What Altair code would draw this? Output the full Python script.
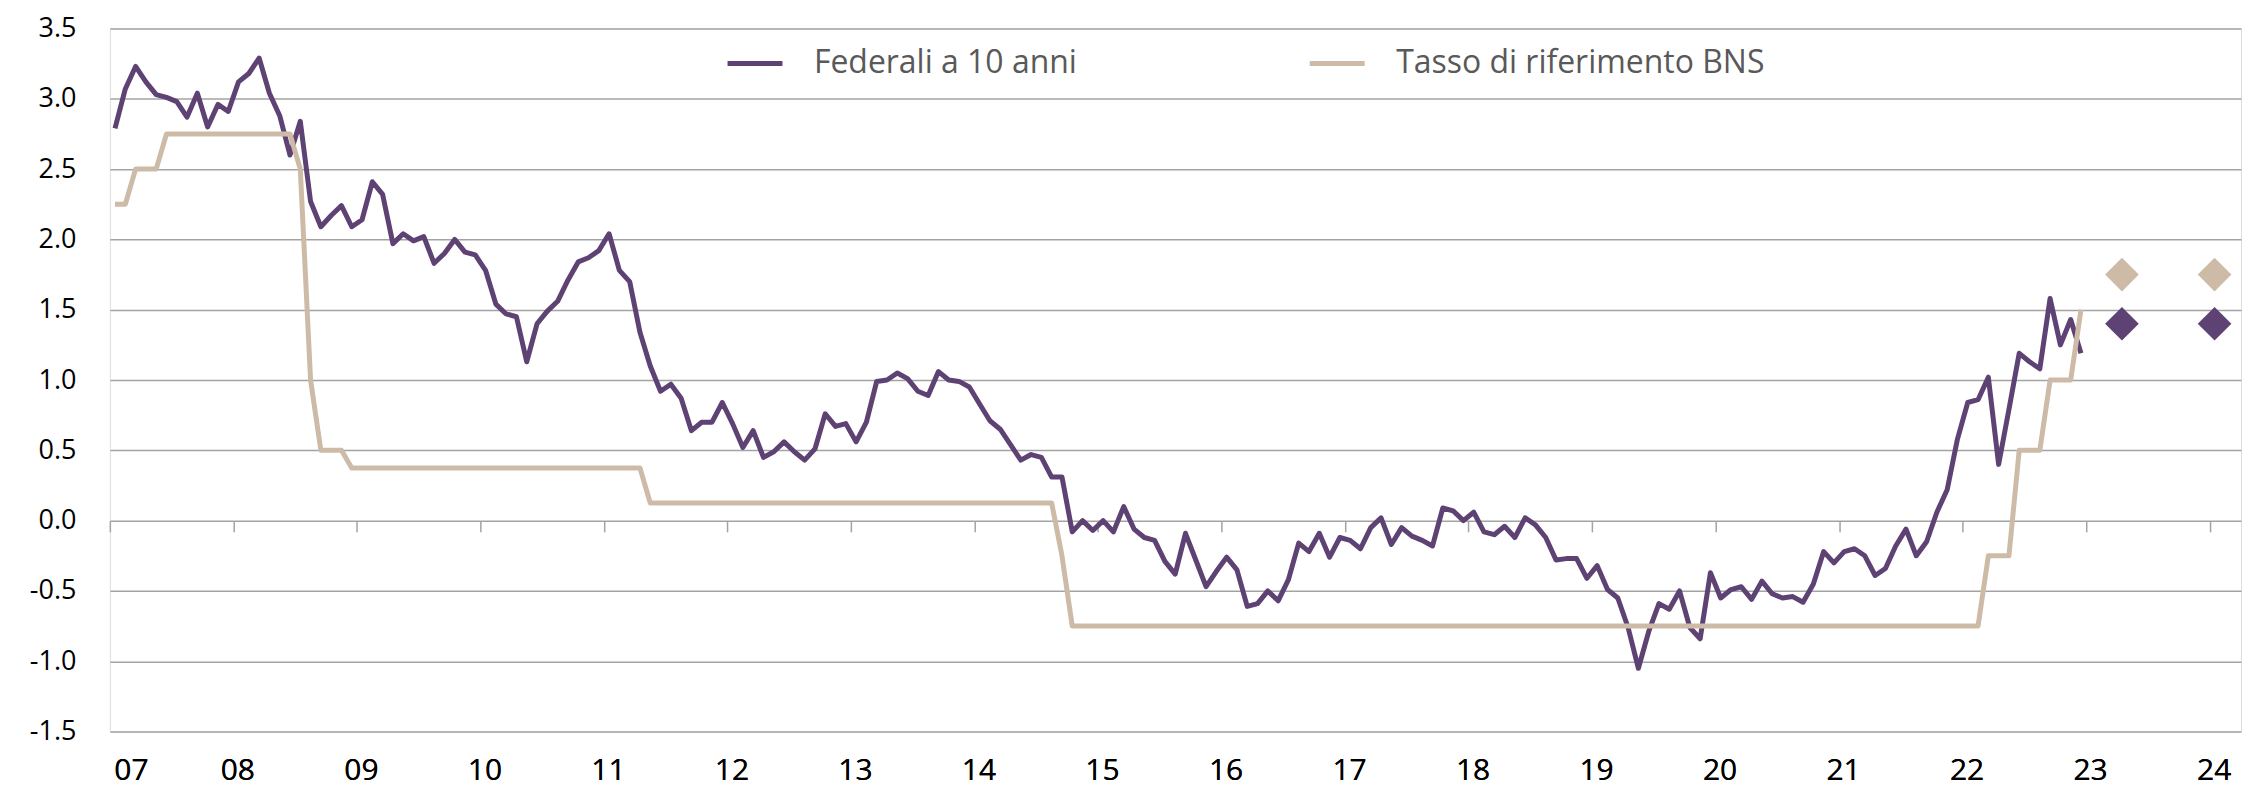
import altair as alt
import pandas as pd

# ---------------- data ----------------
start_year = 2007
# Federali a 10 anni, monthly Jan 2007 .. Dec 2022
fed_values = [
    2.79, 3.07, 3.23, 3.12, 3.03, 3.01, 2.98, 2.87, 3.04, 2.80, 2.96, 2.91,   # 2007
    3.12, 3.18, 3.29, 3.04, 2.88, 2.60, 2.84, 2.27, 2.09, 2.17, 2.24, 2.09,   # 2008
    2.14, 2.41, 2.32, 1.97, 2.04, 1.99, 2.02, 1.83, 1.90, 2.00, 1.91, 1.89,   # 2009
    1.78, 1.54, 1.47, 1.45, 1.13, 1.40, 1.49, 1.56, 1.71, 1.84, 1.87, 1.92,   # 2010
    2.04, 1.78, 1.70, 1.34, 1.10, 0.92, 0.97, 0.87, 0.64, 0.70, 0.70, 0.84,   # 2011
    0.69, 0.52, 0.64, 0.45, 0.49, 0.56, 0.49, 0.43, 0.51, 0.76, 0.67, 0.69,   # 2012
    0.56, 0.70, 0.99, 1.00, 1.05, 1.01, 0.92, 0.89, 1.06, 1.00, 0.99, 0.95,   # 2013
    0.83, 0.71, 0.65, 0.54, 0.43, 0.47, 0.45, 0.31, 0.31, -0.08, 0.00, -0.07, # 2014
    0.00, -0.08, 0.10, -0.06, -0.12, -0.14, -0.29, -0.38, -0.09, -0.28, -0.47, -0.36,  # 2015
    -0.26, -0.35, -0.61, -0.59, -0.50, -0.57, -0.42, -0.16, -0.22, -0.09, -0.26, -0.12,  # 2016
    -0.14, -0.20, -0.05, 0.02, -0.17, -0.05, -0.11, -0.14, -0.18, 0.09, 0.07, 0.00,    # 2017
    0.06, -0.08, -0.10, -0.04, -0.12, 0.02, -0.03, -0.12, -0.28, -0.27, -0.27, -0.41,  # 2018
    -0.32, -0.49, -0.55, -0.76, -1.05, -0.79, -0.59, -0.63, -0.50, -0.76, -0.84, -0.37,  # 2019
    -0.55, -0.49, -0.47, -0.56, -0.43, -0.52, -0.55, -0.54, -0.58, -0.45, -0.22, -0.30,  # 2020
    -0.22, -0.20, -0.25, -0.39, -0.34, -0.18, -0.06, -0.25, -0.15, 0.06, 0.22, 0.58,   # 2021
    0.84, 0.86, 1.02, 0.40, 0.79, 1.19, 1.13, 1.08, 1.58, 1.25, 1.43, 1.19,            # 2022
]
# Tasso di riferimento BNS, monthly Jan 2007 .. Dec 2022
bns_values = [
    2.25, 2.25, 2.5, 2.5, 2.5, 2.75, 2.75, 2.75, 2.75, 2.75, 2.75, 2.75,       # 2007
    2.75, 2.75, 2.75, 2.75, 2.75, 2.75, 2.5, 1.0, 0.5, 0.5, 0.5, 0.375,        # 2008
    0.375, 0.375, 0.375, 0.375, 0.375, 0.375, 0.375, 0.375, 0.375, 0.375, 0.375, 0.375,  # 2009
    0.375, 0.375, 0.375, 0.375, 0.375, 0.375, 0.375, 0.375, 0.375, 0.375, 0.375, 0.375,  # 2010
    0.375, 0.375, 0.375, 0.375, 0.125, 0.125, 0.125, 0.125, 0.125, 0.125, 0.125, 0.125,  # 2011
    0.125, 0.125, 0.125, 0.125, 0.125, 0.125, 0.125, 0.125, 0.125, 0.125, 0.125, 0.125,  # 2012
    0.125, 0.125, 0.125, 0.125, 0.125, 0.125, 0.125, 0.125, 0.125, 0.125, 0.125, 0.125,  # 2013
    0.125, 0.125, 0.125, 0.125, 0.125, 0.125, 0.125, 0.125, -0.25, -0.75, -0.75, -0.75,  # 2014
    -0.75, -0.75, -0.75, -0.75, -0.75, -0.75, -0.75, -0.75, -0.75, -0.75, -0.75, -0.75,  # 2015
    -0.75, -0.75, -0.75, -0.75, -0.75, -0.75, -0.75, -0.75, -0.75, -0.75, -0.75, -0.75,  # 2016
    -0.75, -0.75, -0.75, -0.75, -0.75, -0.75, -0.75, -0.75, -0.75, -0.75, -0.75, -0.75,  # 2017
    -0.75, -0.75, -0.75, -0.75, -0.75, -0.75, -0.75, -0.75, -0.75, -0.75, -0.75, -0.75,  # 2018
    -0.75, -0.75, -0.75, -0.75, -0.75, -0.75, -0.75, -0.75, -0.75, -0.75, -0.75, -0.75,  # 2019
    -0.75, -0.75, -0.75, -0.75, -0.75, -0.75, -0.75, -0.75, -0.75, -0.75, -0.75, -0.75,  # 2020
    -0.75, -0.75, -0.75, -0.75, -0.75, -0.75, -0.75, -0.75, -0.75, -0.75, -0.75, -0.75,  # 2021
    -0.75, -0.75, -0.25, -0.25, -0.25, 0.5, 0.5, 0.5, 1.0, 1.0, 1.0, 1.5,     # 2022
]
# forecasts (diamonds)
forecast_time = [2023.29, 2024.04]
fed_forecast = [1.40, 1.40]
bns_forecast = [1.75, 1.75]

series_names = ["Federali a 10 anni", "Tasso di riferimento BNS"]
series_colors = ["#5E4274", "#CDBBA8"]
year_ticks = list(range(2007, 2025))
y_ticks = [-1.5, -1.0, -0.5, 0.0, 0.5, 1.0, 1.5, 2.0, 2.5, 3.0, 3.5]

# ---------------- tables ----------------
def monthly(values, name):
    return pd.DataFrame({
        "t": [start_year + (i + 0.5) / 12 for i in range(len(values))],
        "v": values,
        "series": name,
    })

fed_df = monthly(fed_values, series_names[0])
bns_df = monthly(bns_values, series_names[1])
fc_df = pd.concat([
    pd.DataFrame({"t": forecast_time, "v": bns_forecast, "series": series_names[1]}),
    pd.DataFrame({"t": forecast_time, "v": fed_forecast, "series": series_names[0]}),
])

FONT = "Open Sans"
GRID = "#A3A3A3"
PLOT_H = 704

x_scale = alt.Scale(domain=[2007, 2024.254], nice=False, zero=False)
y_scale = alt.Scale(domain=[-1.5, 3.5], nice=False, zero=False)
color_scale = alt.Scale(domain=series_names, range=series_colors)

label_axis = alt.Axis(
    orient="bottom", values=year_ticks, title=None, grid=False, ticks=False,
    domain=False, labelFont=FONT, labelFontSize=30, labelColor="#000000",
    labelPadding=24, labelOffset=4,
    labelExpr="substring(toString(datum.value), 2, 4)",
)
tick_axis = alt.Axis(
    orient="bottom", values=year_ticks, title=None, grid=False, labels=False,
    domain=False, ticks=True, tickSize=11, tickColor=GRID, tickWidth=1.5,
    offset=-round(PLOT_H * 1.5 / 5.0),
)
y_axis = alt.Axis(
    values=y_ticks, title=None, grid=True, gridColor=GRID, gridWidth=1.5,
    domain=False, ticks=False, labelFont=FONT, labelFontSize=27,
    labelColor="#000000", labelPadding=34,
    labelExpr="replace(format(datum.value, '.1f'), '\u2212', '-')",
)
legend = alt.Legend(
    title=None, orient="none", legendX=616, legendY=5, direction="horizontal",
    symbolType="stroke", symbolSize=3025, symbolStrokeWidth=5,
    labelFont=FONT, labelFontSize=32, labelColor="#595959", labelLimit=800,
    labelOffset=29, columnPadding=222, padding=0,
)

fed_line = alt.Chart(fed_df).mark_line(strokeWidth=5, strokeJoin="round").encode(
    x=alt.X("t:Q", scale=x_scale, axis=label_axis),
    y=alt.Y("v:Q", scale=y_scale, axis=y_axis),
    color=alt.Color("series:N", scale=color_scale, legend=legend),
)
bns_line = alt.Chart(bns_df).mark_line(strokeWidth=5, strokeJoin="round").encode(
    x=alt.X("t:Q", scale=x_scale, axis=label_axis),
    y=alt.Y("v:Q", scale=y_scale, axis=y_axis),
    color=alt.Color("series:N", scale=color_scale, legend=legend),
)
diamonds = alt.Chart(fc_df).mark_point(shape="diamond", filled=True, size=1135, opacity=1).encode(
    x=alt.X("t:Q", scale=x_scale, axis=tick_axis),
    y=alt.Y("v:Q", scale=y_scale, axis=y_axis),
    color=alt.Color("series:N", scale=color_scale, legend=legend),
)

chart = alt.layer(fed_line, bns_line, diamonds).resolve_axis(x="independent").properties(
    width=2134, height=PLOT_H,
    autosize=alt.AutoSizeParams(type="none"),
    padding={"left": 102, "top": 20, "right": 10, "bottom": 60},
).configure_view(stroke=None).configure(background="white")

chart.save("out.html", embed_options={"renderer": "svg", "actions": False})
